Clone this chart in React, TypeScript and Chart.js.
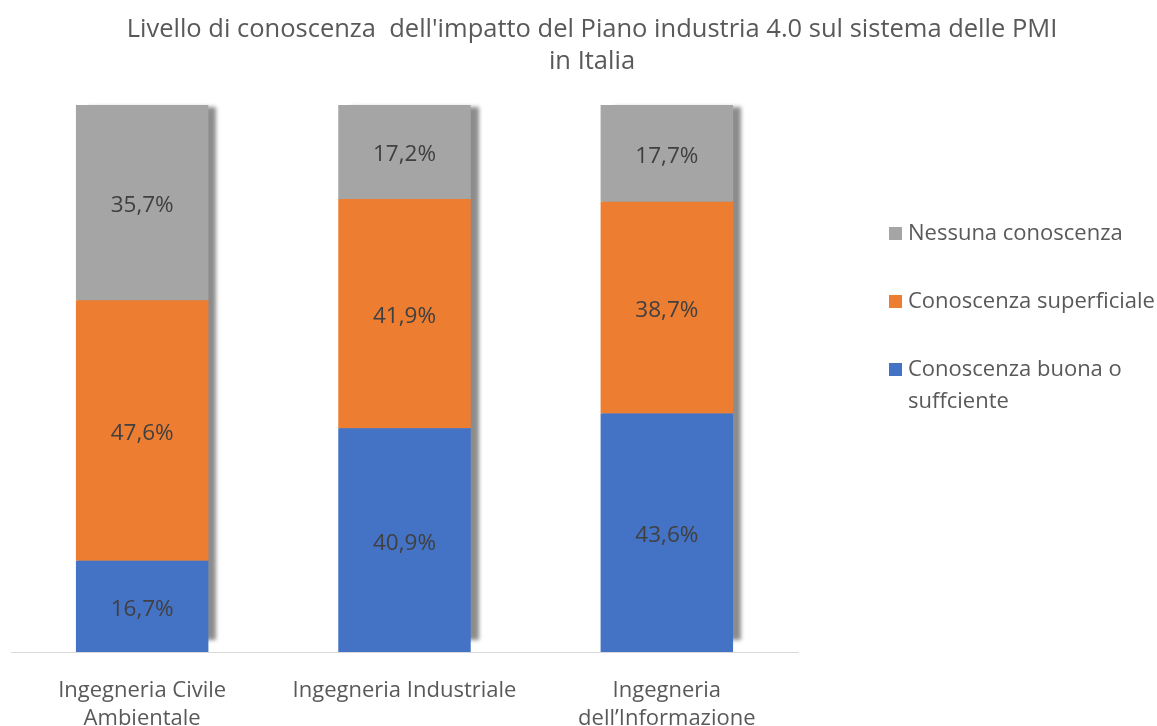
import React, { useEffect, useRef } from "react";
import { Chart, registerables } from "chart.js";

Chart.register(...registerables);

const titleLines = [
  "Livello di conoscenza  dell'impatto del Piano industria 4.0 sul sistema delle PMI",
  "in Italia",
];
const categories = [
  ["Ingegneria Civile", "Ambientale"],
  "Ingegneria Industriale",
  ["Ingegneria", "dell\u2019Informazione"],
];
const seriesNames = ["Conoscenza buona o suffciente", "Conoscenza superficiale", "Nessuna conoscenza"];
const legendLines = [["Conoscenza buona o", "suffciente"], ["Conoscenza superficiale"], ["Nessuna conoscenza"]];
const buonaValues = [16.7, 40.9, 43.6];
const superficialeValues = [47.6, 41.9, 38.7];
const nessunaValues = [35.7, 17.2, 17.7];
const colors = ["#4472C4", "#ED7D31", "#A5A5A5"];

const FONT = "'Open Sans', sans-serif";
const TEXT = "#595959";

const shadowPlugin = {
  id: "barShadow",
  beforeDatasetsDraw(chart: any) {
    const ctx = chart.ctx;
    const first = chart.getDatasetMeta(0);
    const last = chart.getDatasetMeta(chart.data.datasets.length - 1);
    first.data.forEach((bar: any, i: number) => {
      const topBar = last.data[i];
      const left = bar.x - bar.width / 2;
      const top = topBar.y;
      const bottom = bar.base - 14;
      ctx.save();
      ctx.shadowColor = "rgba(0,0,0,0.45)";
      ctx.shadowBlur = 4;
      ctx.shadowOffsetX = 10;
      ctx.shadowOffsetY = 0;
      ctx.fillStyle = "#999";
      ctx.fillRect(left + 2, top + 2, bar.width - 4, bottom - top);
      ctx.restore();
    });
  },
};

const labelsPlugin = {
  id: "segLabels",
  afterDatasetsDraw(chart: any) {
    const ctx = chart.ctx;
    ctx.save();
    ctx.font = `22.5px ${FONT}`;
    ctx.fillStyle = "#404040";
    ctx.textAlign = "center";
    ctx.textBaseline = "middle";
    chart.data.datasets.forEach((ds: any, di: number) => {
      const meta = chart.getDatasetMeta(di);
      meta.data.forEach((bar: any, i: number) => {
        const v = ds.data[i];
        const txt = v.toFixed(1).replace(".", ",") + "%";
        ctx.fillText(txt, bar.x, (bar.y + bar.base) / 2 + 3);
      });
    });
    ctx.restore();
  },
};

const titleLegendPlugin = {
  id: "titleLegend",
  afterDraw(chart: any) {
    const ctx = chart.ctx;
    ctx.save();
    ctx.fillStyle = TEXT;
    ctx.textAlign = "center";
    ctx.textBaseline = "middle";
    ctx.font = `25.5px ${FONT}`;
    titleLines.forEach((t, i) => ctx.fillText(t, 592, 30 + i * 32));
    const order = [2, 1, 0];
    const ys = [234, 302, 370];
    ctx.textAlign = "left";
    ctx.font = `22px ${FONT}`;
    order.forEach((di, k) => {
      const y = ys[k];
      ctx.fillStyle = colors[di];
      ctx.fillRect(889, y - 7, 13, 13);
      ctx.fillStyle = TEXT;
      legendLines[di].forEach((ln, j) => ctx.fillText(ln, 908, y + j * 32));
    });
    ctx.restore();
  },
};

export default function App() {
  const ref = useRef<HTMLCanvasElement>(null);
  useEffect(() => {
    document.body.style.margin = "0";
    const chart = new Chart(ref.current!, {
      type: "bar",
      data: {
        labels: categories as any,
        datasets: [
          { label: seriesNames[0], data: buonaValues, backgroundColor: colors[0] },
          { label: seriesNames[1], data: superficialeValues, backgroundColor: colors[1] },
          { label: seriesNames[2], data: nessunaValues, backgroundColor: colors[2] },
        ],
      },
      options: {
        responsive: false,
        animation: false,
        datasets: { bar: { categoryPercentage: 0.505, barPercentage: 1 } },
        layout: { padding: { top: 105, left: 11, right: 359, bottom: 0 } },
        plugins: {
          legend: { display: false },
          title: { display: false },
          tooltip: { enabled: false },
        },
        scales: {
          x: {
            stacked: true,
            grid: { display: false, drawTicks: false },
            border: { display: true, color: "#D9D9D9", width: 1 },
            ticks: { color: TEXT, font: { family: FONT, size: 22, lineHeight: 1.27 }, padding: 25, maxRotation: 0, autoSkip: false },
            afterFit: (scale: any) => {
              scale.height = 74;
            },
          },
          y: { stacked: true, display: false, min: 0, max: 100 },
        },
      },
      plugins: [shadowPlugin, labelsPlugin, titleLegendPlugin],
    });
    return () => chart.destroy();
  }, []);
  return (
    <div style={{ width: 1157, height: 726 }}>
      <canvas ref={ref} width={1157} height={726} />
    </div>
  );
}
